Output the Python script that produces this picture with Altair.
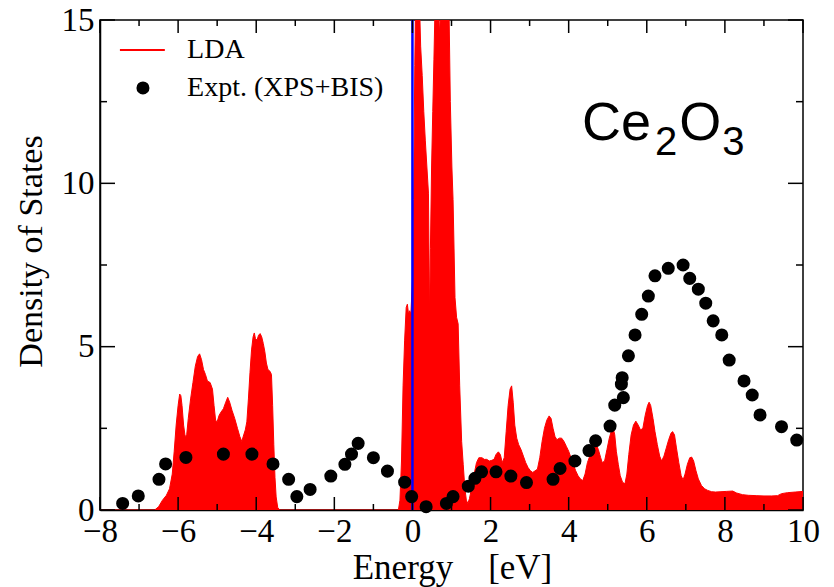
import altair as alt
import pandas as pd

# ---------------- data ----------------
lda_energy = [
    -8.0, -6.60, -6.50, -6.40, -6.30, -6.22, -6.15, -6.10, -6.05, -6.00, -5.96, -5.93, -5.90,
    -5.86, -5.82, -5.78, -5.74, -5.68, -5.62, -5.56, -5.50, -5.45, -5.40, -5.35, -5.30, -5.25,
    -5.18, -5.12, -5.08, -5.04, -5.00, -4.95, -4.90, -4.84, -4.78, -4.73, -4.68, -4.62, -4.55,
    -4.48, -4.42, -4.37, -4.32, -4.28, -4.24, -4.20, -4.16, -4.12, -4.08, -4.05, -4.02, -3.98,
    -3.94, -3.90, -3.86, -3.82, -3.78, -3.74, -3.70, -3.65, -3.61, -3.58, -3.55, -3.52, -3.49,
    -3.45, -3.40, -0.36, -0.32, -0.28, -0.24, -0.20, -0.16, -0.13, -0.10, -0.07, -0.04, 0.00,
    0.03, 0.06, 0.09, 0.13, 0.17, 0.21, 0.25, 0.29, 0.33, 0.37, 0.41, 0.44, 0.46, 0.49, 0.52,
    0.55, 0.58, 0.62, 0.66, 0.70, 0.74, 0.80, 0.86, 0.90, 0.94, 0.97, 1.01, 1.04, 1.09, 1.13,
    1.17, 1.21, 1.26, 1.30, 1.34, 1.38, 1.42, 1.46, 1.52, 1.58, 1.64, 1.70, 1.78, 1.84, 1.90,
    1.97, 2.03, 2.09, 2.14, 2.20, 2.25, 2.30, 2.35, 2.40, 2.45, 2.50, 2.54, 2.58, 2.62, 2.67,
    2.72, 2.78, 2.84, 2.90, 2.96, 3.02, 3.08, 3.14, 3.20, 3.26, 3.32, 3.38, 3.44, 3.50, 3.55,
    3.60, 3.65, 3.70, 3.76, 3.82, 3.88, 3.94, 4.00, 4.06, 4.12, 4.18, 4.24, 4.30, 4.36, 4.42,
    4.48, 4.54, 4.60, 4.66, 4.71, 4.76, 4.82, 4.86, 4.92, 4.98, 5.04, 5.10, 5.14, 5.18, 5.22,
    5.27, 5.32, 5.38, 5.44, 5.49, 5.54, 5.60, 5.66, 5.72, 5.78, 5.84, 5.90, 5.96, 6.02, 6.06,
    6.10, 6.16, 6.21, 6.27, 6.33, 6.38, 6.44, 6.50, 6.56, 6.62, 6.66, 6.71, 6.76, 6.82, 6.88,
    6.93, 6.98, 7.04, 7.10, 7.15, 7.20, 7.26, 7.32, 7.40, 7.48, 7.56, 7.66, 7.76, 7.90, 8.05,
    8.20, 8.30, 8.45, 8.60, 8.80, 9.00, 9.20, 9.35, 9.45, 9.60, 9.80, 10.0,
]
lda_dos = [
    0.0, 0.0, 0.10, 0.30, 0.45, 0.65, 1.10, 1.80, 2.60, 3.20, 3.55, 3.50, 3.20,
    2.60, 2.25, 2.30, 2.80, 3.40, 3.90, 4.40, 4.70, 4.78, 4.60, 4.30, 4.15, 3.95,
    3.90, 3.70, 3.20, 2.75, 2.70, 2.90, 3.00, 3.10, 3.30, 3.45, 3.30, 3.05, 2.80,
    2.50, 2.25, 2.10, 2.30, 2.45, 2.70, 3.40, 4.20, 4.90, 5.30, 5.42, 5.25, 5.20,
    5.35, 5.40, 5.30, 5.10, 4.85, 4.50, 4.30, 4.25, 4.15, 3.20, 2.00, 1.00, 0.40,
    0.08, 0.0, 0.0, 0.30, 1.50, 3.80, 5.20, 6.20, 6.30, 6.00, 6.10, 6.00, 7.00,
    9.50, 13.6, 16.5, 17.0, 16.0, 14.2, 13.3, 12.2, 11.3, 10.5, 9.70, 5.80, 8.00, 10.5, 12.2,
    13.8, 15.5, 17.0, 15.5, 14.5, 17.0, 17.0, 16.0, 17.0, 15.0, 12.5, 10.5, 9.50, 6.50, 5.90,
    5.70, 3.80, 2.10, 1.40, 0.70, 0.30, 0.20, 0.35, 0.70, 1.10, 1.45, 1.60, 1.60, 1.55, 1.55,
    1.50, 1.52, 1.55, 1.70, 1.78, 1.70, 1.45, 1.60, 2.40, 3.20, 3.70, 3.80, 3.30, 2.60, 2.20,
    2.00, 1.85, 1.65, 1.45, 1.30, 1.20, 1.15, 1.20, 1.25, 1.60, 2.10, 2.50, 2.75, 2.88, 2.80,
    2.50, 2.25, 2.15, 2.20, 2.20, 2.10, 1.95, 1.80, 1.60, 1.40, 1.20, 1.05, 0.95, 0.90, 1.10,
    1.45, 1.65, 1.80, 1.95, 2.00, 1.85, 1.60, 1.45, 1.50, 1.85, 2.20, 2.45, 2.50, 2.30, 1.80,
    1.40, 1.05, 0.85, 0.80, 1.10, 1.70, 2.30, 2.60, 2.72, 2.60, 2.45, 2.50, 2.90, 3.20, 3.30,
    3.20, 2.80, 2.40, 2.00, 1.65, 1.50, 1.65, 1.90, 2.15, 2.35, 2.40, 2.30, 1.90, 1.45, 1.05,
    0.92, 1.10, 1.40, 1.60, 1.62, 1.50, 1.20, 0.95, 0.75, 0.65, 0.60, 0.56, 0.55, 0.56, 0.57,
    0.58, 0.52, 0.47, 0.45, 0.44, 0.43, 0.43, 0.44, 0.50, 0.53, 0.55, 0.57,
]

expt_energy = [
    -7.42, -7.02, -6.49, -6.32, -5.80, -4.84, -4.11, -3.57, -3.17, -2.96, -2.62, -2.09,
    -1.73, -1.56, -1.39, -1.00, -0.64, -0.20, -0.02, 0.35, 0.87, 1.04, 1.43, 1.60, 1.77,
    2.14, 2.52, 2.92, 3.60, 3.78, 4.16, 4.52, 4.69, 5.06, 5.18, 5.40, 5.35, 5.37, 5.53,
    5.70, 5.87, 6.04, 6.21, 6.55, 6.93, 7.10, 7.32, 7.51, 7.70, 7.92, 8.11, 8.49, 8.70,
    8.90, 9.45, 9.84,
]
expt_dos = [
    0.20, 0.43, 0.94, 1.41, 1.61, 1.71, 1.71, 1.41, 0.94, 0.41, 0.63, 1.04,
    1.40, 1.71, 2.04, 1.60, 1.19, 0.85, 0.41, 0.10, 0.20, 0.41, 0.73, 0.97, 1.17,
    1.17, 1.04, 0.84, 0.94, 1.27, 1.50, 1.82, 2.12, 2.57, 3.21, 3.44, 3.85, 4.05, 4.72,
    5.36, 5.99, 6.55, 7.17, 7.40, 7.50, 7.09, 6.76, 6.33, 5.79, 5.36, 4.59, 3.95, 3.52,
    2.91, 2.55, 2.14,
]

fermi_energy = [0.0]

x_major = [-8, -6, -4, -2, 0, 2, 4, 6, 8, 10]
x_minor = [-7, -5, -3, -1, 1, 3, 5, 7, 9]
y_major = [0, 5, 10, 15]
y_minor = [2.5, 7.5, 12.5]

legend_labels = ["LDA", "Expt. (XPS+BIS)"]
formula_parts = ["Ce", "2", "O", "3"]

# ---------------- chart ----------------
W, H = 703, 490
SERIF = "Liberation Serif"
SANS = "Liberation Sans"

xs = alt.Scale(domain=[-8, 10], nice=False, zero=False)
ys = alt.Scale(domain=[0, 15], nice=False, zero=False)

lda = pd.DataFrame({"E": lda_energy, "DOS": lda_dos})
expt = pd.DataFrame({"E": expt_energy, "DOS": expt_dos})

x_axis = alt.Axis(
    values=x_major, title="Energy\u00a0\u00a0\u00a0\u00a0[eV]", ticks=False, tickSize=0,
    grid=False, labelFont=SERIF, labelFontSize=33, labelPadding=5, labelFlush=False,
    labelOverlap=False, labelColor="black", titleFont=SERIF, titleFontSize=35,
    titleFontWeight="normal", titleColor="black", titleX=352, titleY=68,
    titleBaseline="alphabetic", titleAlign="center", domainColor="black", domainWidth=1.5,
)
y_axis = alt.Axis(
    values=y_major, title="Density of States", ticks=False, tickSize=0, grid=False,
    labelFont=SERIF, labelFontSize=33, labelPadding=6, labelFlush=False, labelOverlap=False,
    labelColor="black", titleFont=SERIF, titleFontSize=34, titleFontWeight="normal",
    titleColor="black", titleAngle=270, titleX=-69, titleY=231, titleBaseline="middle",
    titleAlign="center", domainColor="black", domainWidth=1.5,
)

area = alt.Chart(lda).mark_area(
    color="#ff0000", opacity=1, fillOpacity=1,
    line={"color": "#ff0000", "strokeWidth": 1}, clip=True, interpolate="linear"
).encode(
    x=alt.X("E:Q", scale=xs, axis=x_axis),
    y=alt.Y("DOS:Q", scale=ys, axis=y_axis, stack=None),
)

fermi = alt.Chart(pd.DataFrame({"E": fermi_energy})).mark_rule(
    color="#0000ff", strokeWidth=2.5
).encode(x=alt.X("E:Q", scale=xs))

points = alt.Chart(expt).mark_circle(size=170, color="black", opacity=1).encode(
    x=alt.X("E:Q", scale=xs), y=alt.Y("DOS:Q", scale=ys)
)


def xticks(vals, y0, y1):
    return alt.Chart(pd.DataFrame({"E": vals})).mark_rule(color="black", strokeWidth=1.5).encode(
        x=alt.X("E:Q", scale=xs), y=alt.value(y0), y2=alt.value(y1)
    )


def yticks(vals, x0, x1):
    return alt.Chart(pd.DataFrame({"DOS": vals})).mark_rule(color="black", strokeWidth=1.5).encode(
        y=alt.Y("DOS:Q", scale=ys), x=alt.value(x0), x2=alt.value(x1)
    )


tick_layers = [
    xticks(x_major, H, H - 13), xticks(x_minor, H, H - 6),
    xticks(x_major, 0, 13), xticks(x_minor, 0, 6),
    yticks(y_major, 0, 15), yticks(y_minor, 0, 7),
    yticks(y_major, W, W - 15), yticks(y_minor, W, W - 7),
]

# legend (drawn in data coordinates)
leg_line = alt.Chart(pd.DataFrame({"E": [-7.49], "E2": [-6.34], "DOS": [14.08]})).mark_rule(
    color="#ff0000", strokeWidth=2
).encode(x=alt.X("E:Q", scale=xs), x2="E2:Q", y=alt.Y("DOS:Q", scale=ys))
leg_dot = alt.Chart(pd.DataFrame({"E": [-6.90], "DOS": [12.92]})).mark_circle(
    size=170, color="black", opacity=1
).encode(x=alt.X("E:Q", scale=xs), y=alt.Y("DOS:Q", scale=ys))
leg_text = alt.Chart(
    pd.DataFrame({"E": [-5.77, -5.77], "DOS": [14.08, 12.92], "label": legend_labels})
).mark_text(font=SERIF, fontSize=28, align="left", baseline="middle", color="black").encode(
    x=alt.X("E:Q", scale=xs), y=alt.Y("DOS:Q", scale=ys), text="label:N"
)

# Ce2O3 annotation
big = alt.Chart(
    pd.DataFrame({"E": [4.34, 6.83], "DOS": [11.33, 11.33], "t": [formula_parts[0], formula_parts[2]]})
).mark_text(font=SANS, fontSize=54, align="left", baseline="alphabetic", color="black").encode(
    x=alt.X("E:Q", scale=xs), y=alt.Y("DOS:Q", scale=ys), text="t:N"
)
small = alt.Chart(
    pd.DataFrame({"E": [6.21, 7.93], "DOS": [10.87, 10.87], "t": [formula_parts[1], formula_parts[3]]})
).mark_text(font=SANS, fontSize=40, align="left", baseline="alphabetic", color="black").encode(
    x=alt.X("E:Q", scale=xs), y=alt.Y("DOS:Q", scale=ys), text="t:N"
)

chart = alt.layer(
    area, fermi, points, *tick_layers, leg_line, leg_dot, leg_text, big, small
).properties(
    width=W, height=H,
    autosize=alt.AutoSizeParams(type="none"),
    padding={"left": 100, "top": 20, "right": 31, "bottom": 77},
    background="white",
).configure_view(
    stroke="black", strokeWidth=1.5
)

chart.save("out.html", embed_options={"renderer": "svg", "actions": False})
